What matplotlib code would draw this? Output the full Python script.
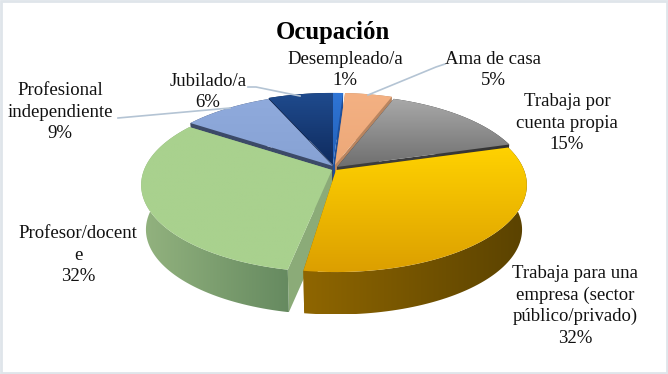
import numpy as np
import matplotlib
matplotlib.use('Agg')
import matplotlib.pyplot as plt
from matplotlib.colors import LinearSegmentedColormap
from matplotlib.patches import Polygon, Rectangle

plt.rcParams['font.family'] = ['Liberation Serif', 'DejaVu Serif']

# values (labels are these rounded)
names = ['Desempleado/a', 'Ama de casa', 'Trabaja por\ncuenta propia',
         'Trabaja para una\nempresa (sector\npúblico/privado)',
         'Profesor/docent\ne', 'Profesional\nindependiente', 'Jubilado/a']
values = [1.0, 4.7, 14.8, 31.8, 32.1, 9.1, 6.5]
pct_labels = ['1%', '5%', '15%', '32%', '32%', '9%', '6%']

top_cols = [('#2f75d6', '#2260b8'), ('#f4b183', '#eca878'), ('#a9a9a9', '#6f6f6f'),
            ('#ffd200', '#dc9f00'), ('#a9d18e', '#a9d18e'), ('#8faadc', '#87a2d4'),
            ('#1f4b8e', '#0f2b5e')]
wall_cols = [('#1d4f9c', '#1d4f9c'), ('#b98560', '#b98560'), ('#3c3c3c', '#333333'),
             ('#8f6600', '#5a4200'), ('#93b37f', '#668a60'), ('#3c4a68', '#3c4a68'),
             ('#0b1d40', '#0b1d40')]
offsets = [(0, 0), (2, 0), (4, 2), (3, 5), (-1, 5), (0, 1), (0, 0)]
gaps = [0, 0, 0, 0, 3.0, 0, 0]

CX, CY = 333, 165
P, A, B = 0.172, 84.5, 188.0
DEPTH = 45


def rim(deg, dx, dy, depth=0):
    t = np.radians(deg)
    u, v = np.sin(t), -np.cos(t)
    w = 1 - P * v
    k = 0.975 if depth else 1.0
    return CX + dx + k * B * u / w, CY + dy + depth + k * A * v / w


def grad_fill(ax, pts, cols, horizontal=False, zorder=1):
    pts = np.asarray(pts)
    x0, x1 = pts[:, 0].min(), pts[:, 0].max()
    y0, y1 = pts[:, 1].min(), pts[:, 1].max()
    cmap = LinearSegmentedColormap.from_list('g', cols)
    g = np.linspace(0, 1, 128)
    g = g[None, :] if horizontal else g[:, None]
    im = ax.imshow(g, cmap=cmap, extent=[x0, x1, y1, y0], aspect='auto',
                   zorder=zorder, interpolation='bilinear', vmin=0, vmax=1)
    poly = Polygon(pts, closed=True, transform=ax.transData, fc='none', ec='none')
    ax.add_patch(poly)
    im.set_clip_path(poly)


fig = plt.figure(figsize=(6.68, 3.74), dpi=100)
ax = fig.add_axes([0, 0, 1, 1])
ax.set_xlim(0, 668)
ax.set_ylim(374, 0)
ax.axis('off')

edges = np.cumsum([0] + values) / sum(values) * 360
order = [6, 0, 1, 5, 2, 4, 3]   # back to front
z = 2
for i in order:
    a0, a1 = edges[i] + gaps[i], edges[i + 1]
    dx, dy = offsets[i]
    th = np.linspace(a0, a1, 80)
    top = [rim(t, dx, dy) for t in th]
    low = [rim(t, dx, dy, DEPTH) for t in th]
    apex = (CX + dx, CY + dy)
    apex_low = (CX + dx, CY + dy + DEPTH)
    # cut faces
    for a, col in [(a0, wall_cols[i][1]), (a1, wall_cols[i][0])]:
        ax.add_patch(Polygon([apex, rim(a, dx, dy), rim(a, dx, dy, DEPTH), apex_low],
                             closed=True, fc=col if i != 4 else '#8bab78', ec='none', zorder=z))
    # outer wall
    grad_fill(ax, top + low[::-1], wall_cols[i], horizontal=True, zorder=z + 1)
    # top face
    grad_fill(ax, [apex] + top, top_cols[i], zorder=z + 2)
    z += 3

label_xy = [(345, 70), (493, 70), (567, 123), (575, 306), (78, 255), (60, 112), (208, 92)]
for name, pct, (x, y) in zip(names, pct_labels, label_xy):
    ax.text(x, y, name + '\n' + pct, ha='center', va='center', fontsize=13.5,
            color='#111111', linespacing=1.32, zorder=60)

ax.text(333, 32, 'Ocupación', ha='center', va='center', fontsize=17.8,
        fontweight='bold', color='black', zorder=60)

lead = '#b4c4d4'
ax.plot([368, 436, 445], [95, 67, 64], color=lead, lw=1.2, zorder=50)
ax.plot([248, 256, 300], [87, 87, 96], color=lead, lw=1.2, zorder=50)
ax.plot([118, 230], [118, 108], color=lead, lw=1.2, zorder=50)

ax.add_patch(Rectangle((1, 1), 666, 372, fc='none', ec='#dfe5ea', lw=2, zorder=70))

fig.savefig('out.png', dpi=100)
